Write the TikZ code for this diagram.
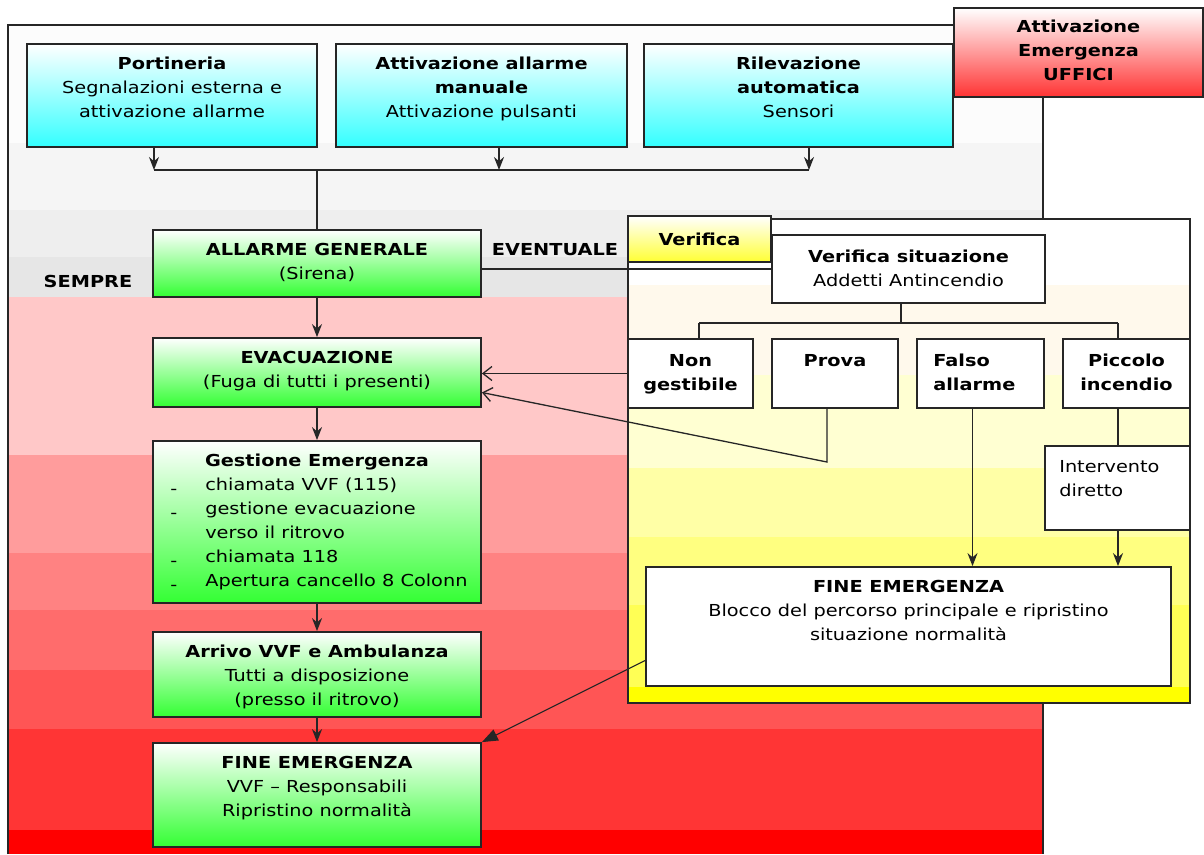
\documentclass[tikz,border=0pt]{standalone}
\usepackage{fontspec}
\setmainfont{DejaVu Sans}[FakeStretch=1.17]
\usetikzlibrary{arrows.meta}

\definecolor{boxgreen}{HTML}{33FF33}
\definecolor{boxcyan}{HTML}{33FFFF}
\definecolor{titlered}{HTML}{FF3333}
\definecolor{tabyellow}{HTML}{FFFF33}
\definecolor{greyA}{HTML}{FCFCFC}
\definecolor{greyB}{HTML}{F5F5F5}
\definecolor{greyC}{HTML}{EEEEEE}
\definecolor{greyD}{HTML}{E6E6E6}
\definecolor{redA}{HTML}{FFC8C8}
\definecolor{redB}{HTML}{FF9C9C}
\definecolor{redC}{HTML}{FF8282}
\definecolor{redD}{HTML}{FF6C6C}
\definecolor{redE}{HTML}{FF5555}
\definecolor{redF}{HTML}{FF3535}
\definecolor{redG}{HTML}{FF0000}
\definecolor{yelA}{HTML}{FFF9EC}
\definecolor{yelB}{HTML}{FFFFD2}
\definecolor{yelC}{HTML}{FFFFA6}
\definecolor{yelD}{HTML}{FFFF80}
\definecolor{yelE}{HTML}{FFFF55}
\definecolor{yelF}{HTML}{FFFF00}

\begin{document}
\begin{tikzpicture}[x=1pt,y=-1pt,
  font=\fontsize{16.5}{24}\selectfont,
  box/.style={draw=black!85,line width=1.8pt,inner sep=0pt},
  greenbox/.style={box,top color=white,bottom color=boxgreen},
  cyanbox/.style={box,top color=white,bottom color=boxcyan},
  whitebox/.style={box,fill=white},
  txt/.style={anchor=north,align=center,inner sep=0pt,yshift=-14pt},
  link/.style={draw=black!85,line width=1.6pt},
  arr/.style={link,-{Stealth[length=13pt,width=10pt]}},
  openarr/.style={draw=black!85,line width=1.3pt,-{Straight Barb[length=9pt,width=14pt]}},
  triarr/.style={draw=black!85,line width=1.1pt,-{Triangle[length=16pt,width=12pt]}}]

  \useasboundingbox (0,0) rectangle (1204,854);
  \fill[white] (0,0) rectangle (1204,854);

  % background bands
  \fill[greyA] (8,25) rectangle (1043,143);
  \fill[greyB] (8,143) rectangle (1043,210);
  \fill[greyC] (8,210) rectangle (1043,257);
  \fill[greyD] (8,257) rectangle (1043,297);
  \fill[redA] (8,297) rectangle (1043,455);
  \fill[redB] (8,455) rectangle (1043,553);
  \fill[redC] (8,553) rectangle (1043,610);
  \fill[redD] (8,610) rectangle (1043,670);
  \fill[redE] (8,670) rectangle (1043,729);
  \fill[redF] (8,729) rectangle (1043,830);
  \fill[redG] (8,830) rectangle (1043,854);

  \draw[link] (8,854) -- (8,25) -- (954,25);
  \draw[link] (1043,97) -- (1043,854);

  % verification area
  \fill[white] (628,219) rectangle (1190,285);
  \fill[yelA] (628,285) rectangle (1190,375);
  \fill[yelB] (628,375) rectangle (1190,468);
  \fill[yelC] (628,468) rectangle (1190,537);
  \fill[yelD] (628,537) rectangle (1190,605);
  \fill[yelE] (628,605) rectangle (1190,687);
  \fill[yelF] (628,687) rectangle (1190,703);
  \draw[link] (771,219) -- (1190,219) -- (1190,703) -- (628,703) -- (628,262);

  \node[box,top color=white,bottom color=titlered,minimum width=249pt,minimum height=89pt] (uffici) at (1078.5,52.5) {};
  \node[txt,yshift=1pt] (uffici-t) at (uffici.north) {\textbf{Attivazione}\\\textbf{Emergenza}\\\textbf{UFFICI}};

  \node[cyanbox,minimum width=290pt,minimum height=103pt] (port) at (172,95.5) {};
  \node[txt] (port-t) at (port.north) {\textbf{Portineria}\\Segnalazioni esterna e\\attivazione allarme};
  \node[cyanbox,minimum width=291pt,minimum height=103pt] (manu) at (481.5,95.5) {};
  \node[txt] (manu-t) at (manu.north) {\textbf{Attivazione allarme}\\\textbf{manuale}\\Attivazione pulsanti};
  \node[cyanbox,minimum width=309pt,minimum height=103pt] (rilev) at (798.5,95.5) {};
  \node[txt] (rilev-t) at (rilev.north) {\textbf{Rilevazione}\\\textbf{automatica}\\Sensori};

  \node[greenbox,minimum width=328pt,minimum height=67pt] (allarme) at (317,263.5) {};
  \node[txt] (allarme-t) at (allarme.north) {\textbf{ALLARME GENERALE}\\(Sirena)};
  \node[greenbox,minimum width=328pt,minimum height=69pt] (evac) at (317,372.5) {};
  \node[txt] (evac-t) at (evac.north) {\textbf{EVACUAZIONE}\\(Fuga di tutti i presenti)};
  \node[greenbox,minimum width=328pt,minimum height=162pt] (gest) at (317,522) {};
  \node[txt] (gest-t) at (gest.north) {\textbf{Gestione Emergenza}};
  \node[anchor=north west,align=left,inner sep=0pt] (gest-l) at ([xshift=18pt,yshift=-38pt]gest.north west)
    {\makebox[35pt][l]{\raisebox{-4pt}{-}}chiamata VVF (115)\\
     \makebox[35pt][l]{\raisebox{-4pt}{-}}gestione evacuazione\\
     \hspace*{35pt}verso il ritrovo\\
     \makebox[35pt][l]{\raisebox{-4pt}{-}}chiamata 118\\
     \makebox[35pt][l]{\raisebox{-4pt}{-}}Apertura cancello 8 Colonn};
  \node[greenbox,minimum width=328pt,minimum height=85pt] (arrivo) at (317,674.5) {};
  \node[txt] (arrivo-t) at (arrivo.north) {\textbf{Arrivo VVF e Ambulanza}\\Tutti a disposizione\\(presso il ritrovo)};
  \node[greenbox,minimum width=328pt,minimum height=104pt] (fine) at (317,795) {};
  \node[txt] (fine-t) at (fine.north) {\textbf{FINE EMERGENZA}\\VVF -- Responsabili\\Ripristino normalità};

  \node (sempre) at (88,281) {\textbf{SEMPRE}};
  \node (eventuale) at (555,250) {\textbf{EVENTUALE}};

  \node[box,top color=white,bottom color=tabyellow,minimum width=143pt,minimum height=46pt] (verif) at (699.5,239) {\textbf{Verifica}};
  \node[whitebox,minimum width=273pt,minimum height=68pt] (versit) at (908.5,269) {};
  \node[txt,yshift=-2pt] (versit-t) at (versit.north) {\textbf{Verifica situazione}\\Addetti Antincendio};

  \node[whitebox,minimum width=125pt,minimum height=69pt] (nong) at (690.5,373.5) {};
  \node[txt,yshift=-2pt] (nong-t) at (nong.north) {\textbf{Non}\\\textbf{gestibile}};
  \node[whitebox,minimum width=126pt,minimum height=69pt] (prova) at (835,373.5) {};
  \node[txt,yshift=-2pt] (prova-t) at (prova.north) {\textbf{Prova}};
  \node[whitebox,minimum width=127pt,minimum height=69pt] (falso) at (980.5,373.5) {};
  \node[anchor=north west,align=left,inner sep=0pt] (falso-t) at ([xshift=17pt,yshift=-16pt]falso.north west) {\textbf{Falso}\\\textbf{allarme}};
  \node[whitebox,minimum width=127pt,minimum height=69pt] (picc) at (1126.5,373.5) {};
  \node[txt,yshift=-2pt] (picc-t) at (picc.north) {\textbf{Piccolo}\\\textbf{incendio}};
  \node[whitebox,minimum width=145pt,minimum height=84pt] (interv) at (1117.5,488) {};
  \node[anchor=north west,align=left,inner sep=0pt] (interv-t) at ([xshift=15pt,yshift=-15pt]interv.north west) {Intervento\\diretto};
  \node[whitebox,minimum width=525pt,minimum height=119pt] (finer) at (908.5,626.5) {};
  \node[txt] (finer-t) at (finer.north) {\textbf{FINE EMERGENZA}\\Blocco del percorso principale e ripristino\\situazione normalità};

  % connectors
  \coordinate (j1) at (154,170);
  \coordinate (j2) at (499,170);
  \coordinate (j3) at (809,170);
  \coordinate (jm) at (317,170);
  \draw[arr] (port.south -| j1) -- (j1);
  \draw[arr] (manu.south -| j2) -- (j2);
  \draw[arr] (rilev.south -| j3) -- (j3);
  \draw[link] (j1) -- (j3);
  \draw[link] (jm) -- (allarme.north);

  \draw[arr] (allarme) -- (evac);
  \draw[arr] (evac) -- (gest);
  \draw[arr] (gest) -- (arrivo);
  \draw[arr] (arrivo) -- (fine);

  \draw[link] (allarme.east |- versit.west) -- (versit.west);

  \coordinate (t0) at (901,323);
  \coordinate (t1) at (699,323);
  \coordinate (t4) at (1118,323);
  \draw[link] (versit.south -| t0) -- (t0);
  \draw[link] (t1) -- (t4);
  \draw[link] (t1) -- (t1 |- nong.north);
  \draw[link] (t4) -- (t4 |- picc.north);

  \draw[openarr] (nong.west) -- (evac.east |- nong.west);
  \coordinate (pb) at (827,462);
  \draw[openarr] (prova.south -| pb) -- (pb) -- ([yshift=-20pt]evac.east);
  \draw[arr] ([xshift=-8pt]falso.south) -- ([xshift=-8pt]falso.south |- finer.north);
  \draw[link] (t4 |- picc.south) -- (t4 |- interv.north);
  \draw[arr] (t4 |- interv.south) -- (t4 |- finer.north);
  \draw[triarr] ([yshift=-34pt]finer.west) -- (fine.north east);
\end{tikzpicture}
\end{document}
